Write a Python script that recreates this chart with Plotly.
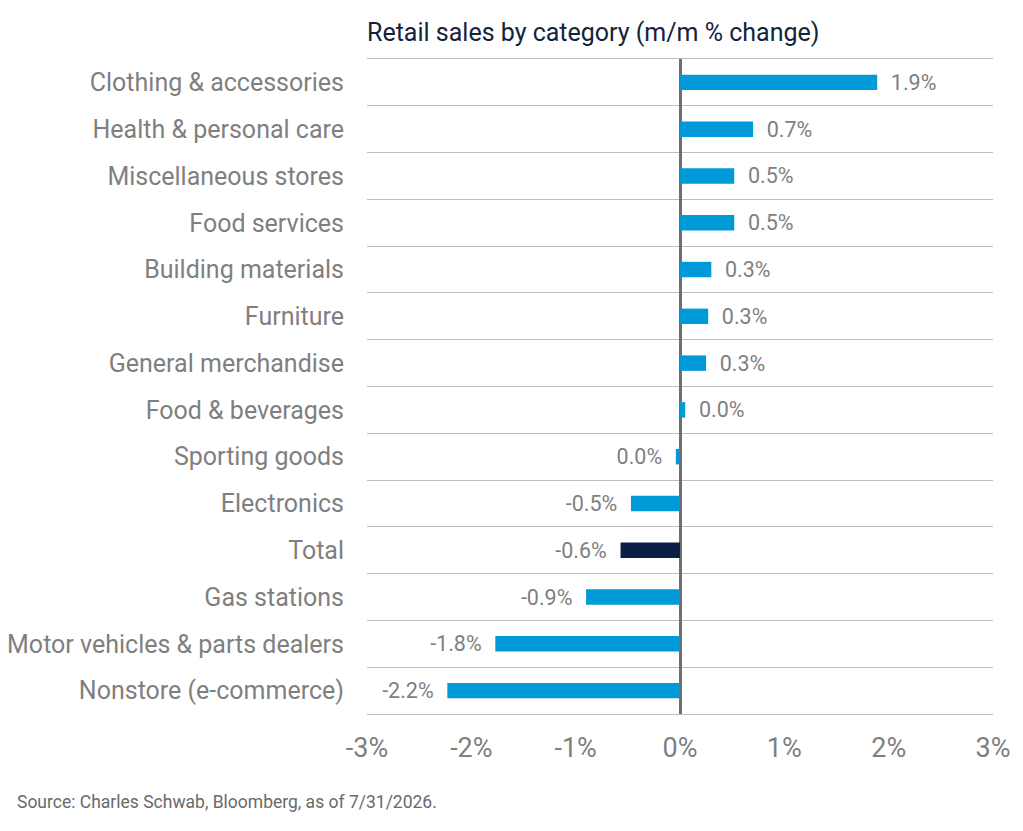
import plotly.graph_objects as go

categories = ["Clothing & accessories", "Health & personal care", "Miscellaneous stores",
              "Food services", "Building materials", "Furniture", "General merchandise",
              "Food & beverages", "Sporting goods", "Electronics", "Total", "Gas stations",
              "Motor vehicles & parts dealers", "Nonstore (e-commerce)"]
values = [1.89, 0.70, 0.52, 0.52, 0.30, 0.27, 0.25, 0.05, -0.04, -0.47, -0.57, -0.90, -1.77, -2.23]
value_labels = ["1.9%", "0.7%", "0.5%", "0.5%", "0.3%", "0.3%", "0.3%", "0.0%", "0.0%",
                "-0.5%", "-0.6%", "-0.9%", "-1.8%", "-2.2%"]
x_ticks = [-3, -2, -1, 0, 1, 2, 3]
x_tick_text = ["-3%", "-2%", "-1%", "0%", "1%", "2%", "3%"]

BLUE = "#009ad8"
NAVY = "#0b1f45"
GRAY = "#7f7f7f"

colors = [NAVY if c == "Total" else BLUE for c in categories]
# pad the labels away from the bar ends
templates = ["  %{text}" if v > 0 else "%{text}  " for v in values]

fig = go.Figure()
fig.add_trace(go.Bar(
    x=values, y=categories, orientation="h",
    marker=dict(color=colors, line=dict(width=0)),
    width=0.33,
    text=value_labels, texttemplate=templates, textposition="outside",
    constraintext="none",
    textfont=dict(size=21.5, color=GRAY),
    cliponaxis=False,
))

fig.update_layout(
    width=1023, height=831,
    margin=dict(l=359, r=38, t=51, b=125),
    plot_bgcolor="white", paper_bgcolor="white",
    font=dict(family="Roboto", color=GRAY),
    showlegend=False,
    title=dict(text="Retail sales by category (m/m % change)",
               x=359/1023, xanchor="left", y=1 - 24/831, yanchor="middle",
               font=dict(size=25, color="#14233a")),
)
# mirrored axis line gives the top and bottom rules
fig.update_xaxes(range=[-3, 3], tickvals=x_ticks, ticktext=x_tick_text, automargin=False,
                 showgrid=False, zeroline=True, zerolinecolor="#6f6f6f", zerolinewidth=2.5,
                 showline=True, mirror=True, linecolor="#bdbdbd", linewidth=1,
                 ticks="", tickfont=dict(size=27, color=GRAY), ticklabelstandoff=10)
fig.update_yaxes(categoryorder="array", categoryarray=categories, automargin=False,
                 range=[13.5, -0.5],
                 tickson="boundaries", showgrid=True, gridcolor="#bdbdbd", gridwidth=1,
                 ticks="", tickfont=dict(size=25, color=GRAY), ticklabelstandoff=22)

fig.add_annotation(text="Source: Charles Schwab, Bloomberg, as of 7/31/2026.",
                   xref="paper", yref="paper", x=-0.5623, y=-0.1344,
                   xanchor="left", yanchor="middle", showarrow=False,
                   font=dict(size=17.5, color="#6a6a6a"))

fig.write_html("out.html")
